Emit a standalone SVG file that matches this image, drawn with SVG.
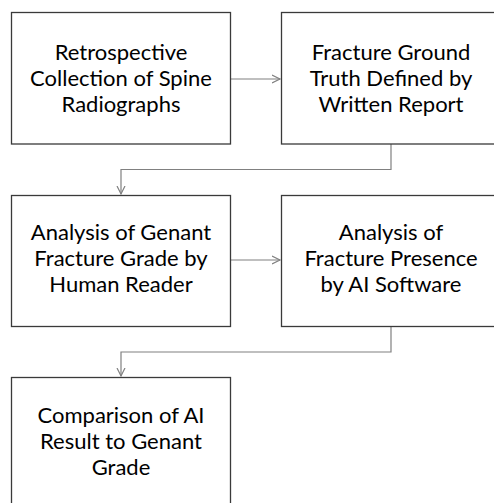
<svg xmlns="http://www.w3.org/2000/svg" width="494" height="503" viewBox="0 0 494 503">
<defs>
<style>
.box{fill:#fff;stroke:#3a3a3a;stroke-width:1.3}
.t{font-family:Lato,"Open Sans","Liberation Sans",sans-serif;font-size:22px;fill:#000;text-anchor:middle}
.c{fill:none;stroke:#808080;stroke-width:1.2}
</style>
<marker id="ah" markerWidth="10" markerHeight="10" refX="8" refY="5" orient="auto" markerUnits="userSpaceOnUse">
<path d="M0,1 L8,5 L0,9" fill="none" stroke="#808080" stroke-width="1.2"/>
</marker>
</defs>
<rect width="494" height="503" fill="#fff"/>
<g id="connectors">
<line class="c" x1="231" y1="79" x2="280" y2="79" marker-end="url(#ah)"/>
<polyline class="c" points="391,144 391,169.5 121,169.5 121,194" marker-end="url(#ah)"/>
<line class="c" x1="231" y1="260" x2="280" y2="260" marker-end="url(#ah)"/>
<polyline class="c" points="391,326 391,352 121,352 121,376" marker-end="url(#ah)"/>
</g>
<g id="n1">
<rect class="box" x="11.5" y="12.5" width="219" height="131.5"/>
<text class="t" x="121" y="60">Retrospective</text>
<text class="t" x="121" y="86">Collection of Spine</text>
<text class="t" x="121" y="112">Radiographs</text>
</g>
<g id="n2">
<rect class="box" x="281.5" y="12.5" width="230" height="131.5"/>
<text class="t" x="391" y="60">Fracture Ground</text>
<text class="t" x="391" y="86">Truth Defined by</text>
<text class="t" x="391" y="112">Written Report</text>
</g>
<g id="n3">
<rect class="box" x="11.5" y="195.5" width="219" height="131"/>
<text class="t" x="121" y="240">Analysis of Genant</text>
<text class="t" x="121" y="266">Fracture Grade by</text>
<text class="t" x="121" y="292">Human Reader</text>
</g>
<g id="n4">
<rect class="box" x="281.5" y="195.5" width="230" height="131"/>
<text class="t" x="391" y="240">Analysis of</text>
<text class="t" x="391" y="266">Fracture Presence</text>
<text class="t" x="391" y="292">by AI Software</text>
</g>
<g id="n5">
<rect class="box" x="11.5" y="377.5" width="219" height="140"/>
<text class="t" x="121" y="423">Comparison of AI</text>
<text class="t" x="121" y="449">Result to Genant</text>
<text class="t" x="121" y="475">Grade</text>
</g>
</svg>
